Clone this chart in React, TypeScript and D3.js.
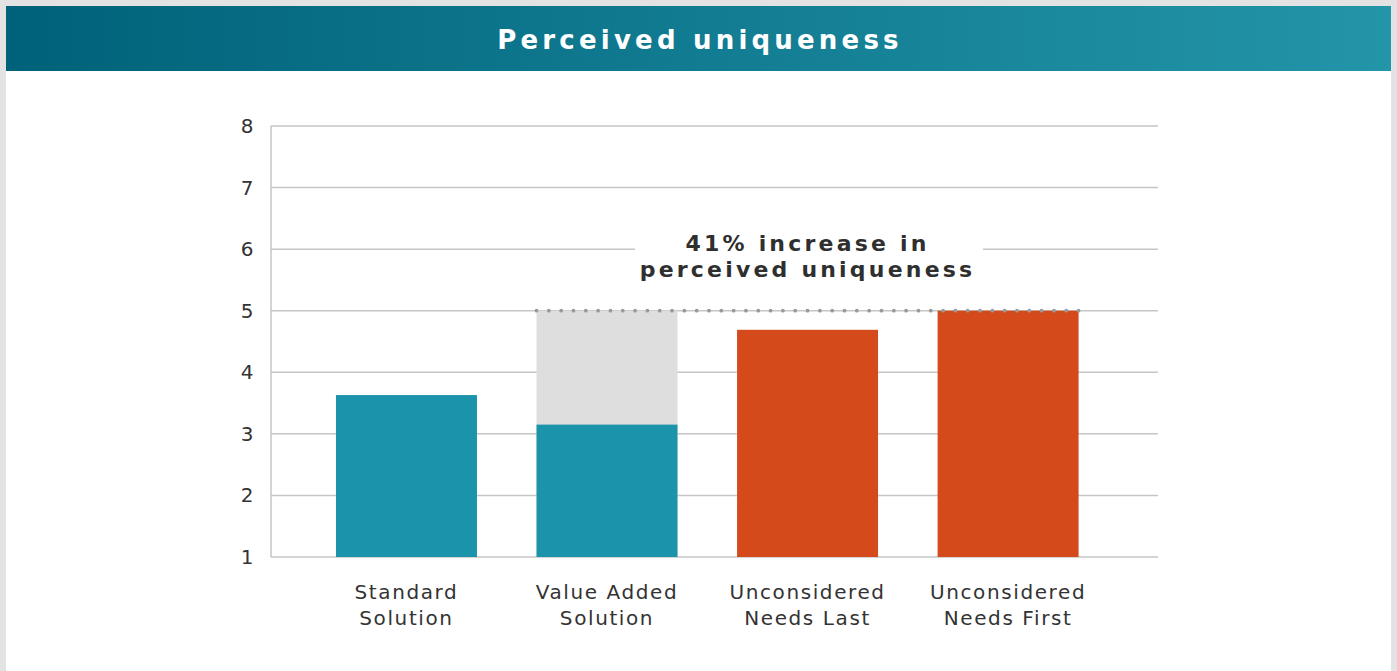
import React from "react";
import * as d3 from "d3";

const categories = [
  ["Standard", "Solution"],
  ["Value Added", "Solution"],
  ["Unconsidered", "Needs Last"],
  ["Unconsidered", "Needs First"],
];
const barValues = [3.63, 3.15, 4.69, 5.0];
const barKinds = ["teal", "teal", "orange", "orange"];
const ghostValues = [null, 5.0, null, null];
const yTicks = [1, 2, 3, 4, 5, 6, 7, 8];
const title = "Perceived uniqueness";
const annotation = ["41% increase in", "perceived uniqueness"];
const referenceValue = 5.0;

const W = 1397;
const H = 671;
const FONT = "'DejaVu Sans', Verdana, sans-serif";

export default function App() {
  const x = d3
    .scaleBand<number>()
    .domain(d3.range(categories.length))
    .range([271, 1158])
    .paddingInner(0.297)
    .paddingOuter(0.36)
    .align(0.45);
  const y = d3.scaleLinear().domain([1, 8]).range([557, 126]);
  const colors: Record<string, string> = { teal: "#1a93ab", orange: "#d44a1a" };

  const x0 = x(1)!;
  const x1 = x(3)! + x.bandwidth();
  const dots = d3.range(x0, x1 + 0.1, (x1 - x0) / 44);
  const annCx = x(2)! + x.bandwidth() / 2;

  return (
    <svg
      width={W}
      height={H}
      style={{ position: "absolute", left: 0, top: 0, fontFamily: FONT }}
    >
      <defs>
        <linearGradient id="hdr" x1="0" x2="1" y1="0" y2="0">
          <stop offset="0" stopColor="#00627a" />
          <stop offset="1" stopColor="#2395a9" />
        </linearGradient>
      </defs>
      <rect x={0} y={0} width={W} height={H} fill="#e3e3e3" />
      <rect x={6} y={6} width={1385} height={H - 6} fill="#ffffff" />
      <rect x={6} y={6} width={1385} height={65} fill="url(#hdr)" />
      <text
        x={700}
        y={49}
        textAnchor="middle"
        fill="#ffffff"
        fontWeight="bold"
        fontSize={26}
        letterSpacing={4.2}
      >
        {title}
      </text>

      {/* grid */}
      {yTicks.map((t) => (
        <g key={t}>
          <line x1={271} x2={1158} y1={y(t)} y2={y(t)} stroke="#c6c6c6" strokeWidth={1.5} />
          <text x={247} y={y(t) + 7} textAnchor="middle" fontSize={20} fill="#333">
            {t}
          </text>
        </g>
      ))}
      <line x1={271} x2={271} y1={126} y2={557} stroke="#c6c6c6" strokeWidth={1.5} />

      {/* bars */}
      {barValues.map((v, i) => (
        <g key={i}>
          {ghostValues[i] != null && (
            <rect
              x={x(i)}
              y={y(ghostValues[i] as number)}
              width={x.bandwidth()}
              height={y(1) - y(ghostValues[i] as number)}
              fill="#dedede"
            />
          )}
          <rect
            x={x(i)}
            y={y(v)}
            width={x.bandwidth()}
            height={y(1) - y(v)}
            fill={colors[barKinds[i]]}
          />
        </g>
      ))}

      {/* dotted reference line */}
      {dots.map((dx, i) => (
        <circle key={i} cx={dx} cy={y(referenceValue)} r={1.9} fill="#9a9a9a" />
      ))}

      {/* annotation */}
      <rect x={635} y={226} width={348} height={60} fill="#ffffff" />
      {annotation.map((line, i) => (
        <text
          key={i}
          x={annCx}
          y={251 + i * 26}
          textAnchor="middle"
          fontWeight="bold"
          fontSize={22}
          letterSpacing={3.2}
          fill="#2f2f2f"
        >
          {line}
        </text>
      ))}

      {/* category labels */}
      {categories.map((lines, i) => (
        <text
          key={i}
          x={x(i)! + x.bandwidth() / 2}
          textAnchor="middle"
          fontSize={20}
          letterSpacing={1.6}
          fill="#333"
        >
          {lines.map((l, j) => (
            <tspan key={j} x={x(i)! + x.bandwidth() / 2} y={599 + j * 26}>
              {l}
            </tspan>
          ))}
        </text>
      ))}
    </svg>
  );
}
